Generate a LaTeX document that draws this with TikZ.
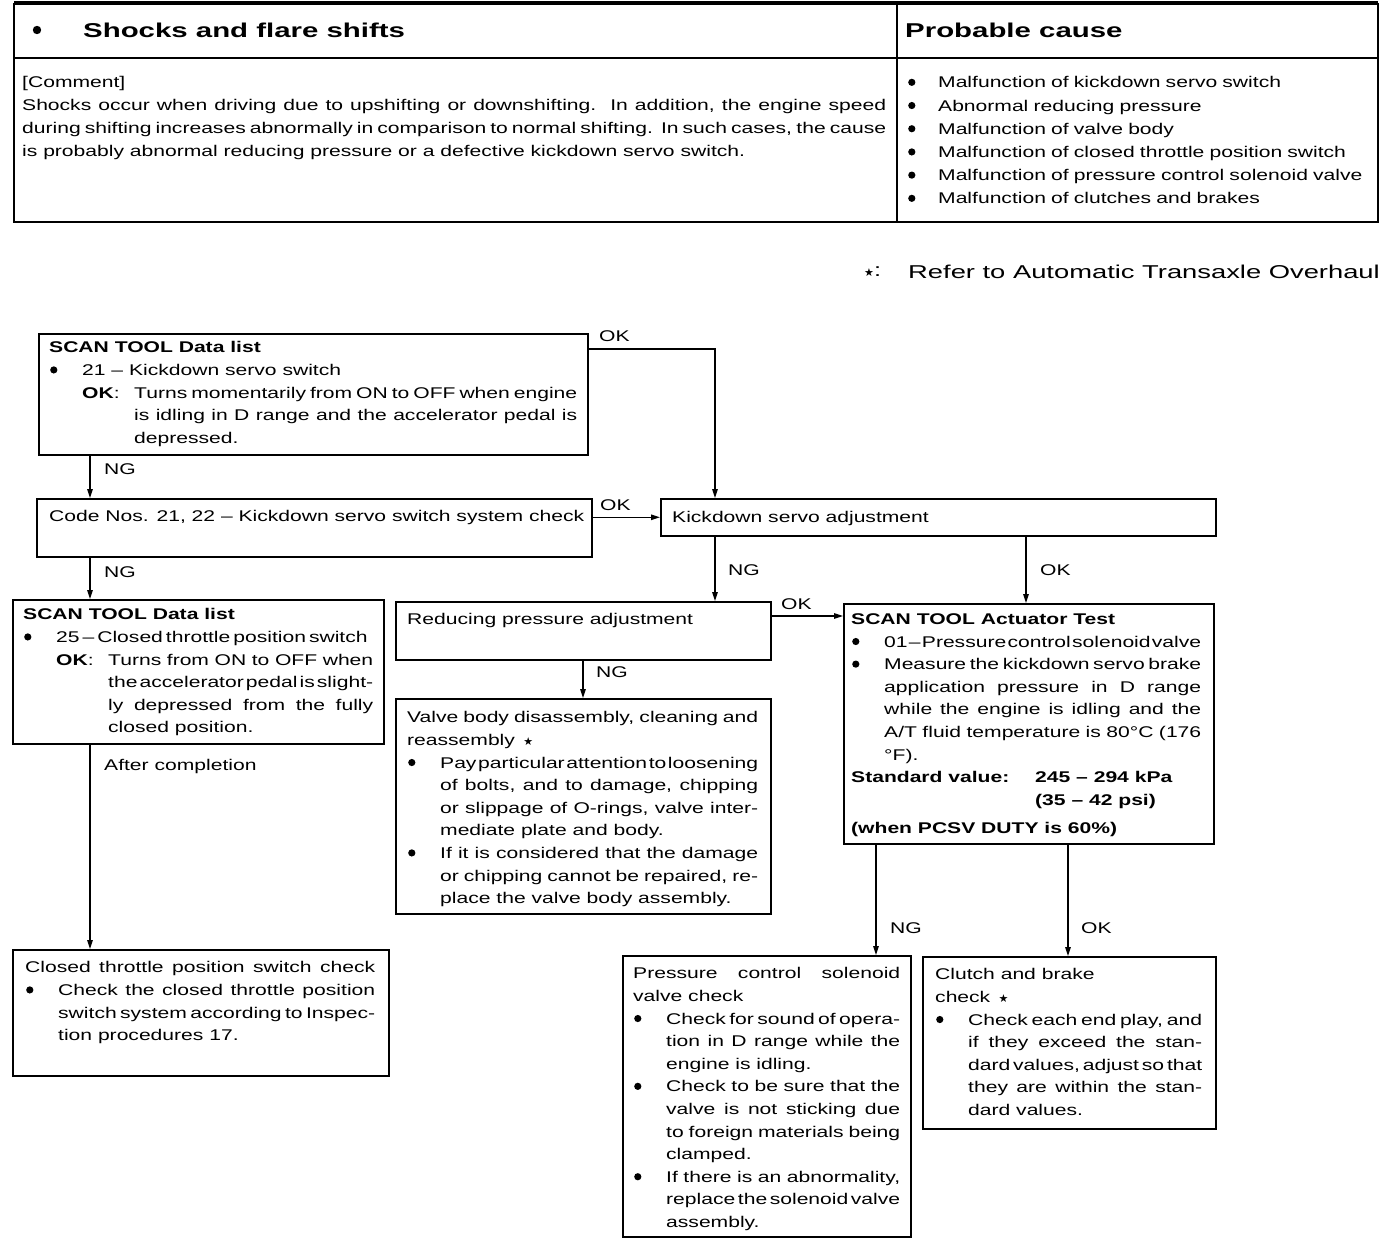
\documentclass[tikz,border=0pt]{standalone}
\usepackage{fontspec}
\setmainfont{Liberation Sans}[FakeStretch=1.36]
\newfontfamily\widefont{Liberation Sans}[FakeStretch=1.47]
\newfontfamily\dejavu{DejaVu Sans}
\usetikzlibrary{arrows.meta}
\newcommand\bodyfont{\fontsize{15.5}{22.6}\selectfont}
\newcommand\setpar{\parindent=0pt\parskip=0pt\tolerance=10000\hyphenpenalty=10000\exhyphenpenalty=10000\relax}
\newcommand\bul{\tikz[baseline=-5.5pt]\fill (0pt,0pt) circle[radius=3.6pt];}
\newcommand\refstar{{\dejavu\fontsize{11}{11}\selectfont ★}}
% bullet item; the first item in a node uses \bitemfirst (no leading \par)
\newcommand\bitemfirst[2][33pt]{\hangindent=#1\hangafter=1\noindent\makebox[#1][l]{\hspace{1pt}\bul}#2\par}
\newcommand\bitem[2][33pt]{\par\bitemfirst[#1]{#2}}
\newcommand\okitem[1]{\par\hangindent=85pt\hangafter=1\noindent\hspace*{33pt}\makebox[52pt][l]{\textbf{OK}:}#1\par}
\newcommand\tightln[2][2.5pt]{{\spaceskip=#1 plus 10pt minus 0.5pt #2}}
\newcommand\jline[1]{\noindent\makebox[\hsize][s]{#1}\par}
\begin{document}
\begin{tikzpicture}[x=1pt,y=-1pt,
  box/.style={draw, line width=1.6pt, anchor=north west, inner sep=0pt},
  txt/.style={anchor=north west, inner sep=0pt, align=justify, font=\bodyfont, execute at begin node=\setpar},
  ln/.style={anchor=north west, inner sep=0pt, font=\bodyfont},
  lbl/.style={anchor=west, inner sep=0pt, font=\bodyfont},
  arr/.style={line width=1.3pt, -{Triangle[length=9pt,width=5.5pt]}},
  frame/.style={line width=1.8pt}]
\useasboundingbox (0,0) rectangle (1392,1238);

% ---------- top table ----------
\draw[frame] (14,4) rectangle (1378,222);
\draw[line width=3pt] (14,2.5) -- (1378,2.5);
\draw[frame] (14,58) -- (1378,58);
\draw[frame] (897,4) -- (897,222);
\node[anchor=center, inner sep=0pt] (hbul) at (37,30) {\tikz\fill (0pt,0pt) circle[radius=4.2pt];};
\node[anchor=west, inner sep=0pt, font=\widefont\fontsize{20}{24}\selectfont\bfseries] (htitle) at (83,30) {Shocks and flare shifts};
\node[anchor=west, inner sep=0pt, font=\widefont\fontsize{20}{24}\selectfont\bfseries] (hcause) at (905,30) {Probable cause};
\node[txt, text width=864pt, font=\fontsize{15.5}{23}\selectfont] (comment) at (22,76.4) {[Comment]\par
Shocks occur when driving due to upshifting or downshifting.\ \ In addition, the engine speed\linebreak during shifting increases abnormally in comparison to normal shifting.\ \ In such cases, the cause\linebreak is probably abnormal reducing pressure or a defective kickdown servo switch.};
\node[txt, text width=460pt, align=left, font=\fontsize{15.5}{23.2}\selectfont] (causes) at (907,76.4) {%
\bitemfirst[31pt]{Malfunction of kickdown servo switch}%
\bitem[31pt]{Abnormal reducing pressure}%
\bitem[31pt]{Malfunction of valve body}%
\bitem[31pt]{Malfunction of closed throttle position switch}%
\bitem[31pt]{Malfunction of pressure control solenoid valve}%
\bitem[31pt]{Malfunction of clutches and brakes}};

\node[anchor=west, inner sep=0pt, font=\fontsize{18.6}{22}\selectfont] (star) at (864,272) {\refstar:};
\node[anchor=west, inner sep=0pt, font=\widefont\fontsize{18.6}{22}\selectfont] (refer) at (908,272) {Refer to Automatic Transaxle Overhaul};

% ---------- flowchart boxes ----------
\node[box, minimum width=549pt, minimum height=121pt] (A) at (38,333) {};
\node[txt, text width=528pt] (At) at (49,341.4) {\textbf{SCAN TOOL Data list}%
\bitem{21 – Kickdown servo switch}%
\okitem{\tightln{Turns momentarily from ON to OFF when engine}\linebreak is idling in D range and the accelerator pedal is\linebreak depressed.}};

\node[box, minimum width=555pt, minimum height=58pt] (B) at (36,498) {};
\node[ln] (Bt) at (49,510.4) {Code Nos. 21, 22 – Kickdown servo switch system check};

\node[box, minimum width=555pt, minimum height=37pt] (C) at (660,498) {};
\node[ln] (Ct) at (672,511.4) {Kickdown servo adjustment};

\node[box, minimum width=371pt, minimum height=144pt] (D) at (12,599) {};
\node[txt, text width=350pt] (Dt) at (23,608.4) {\textbf{SCAN TOOL Data list}%
\bitem{\tightln[3pt]{25 – Closed throttle position switch}}%
\okitem{Turns from ON to OFF when\linebreak \tightln{the accelerator pedal is slight-}\linebreak ly depressed from the fully\linebreak closed position.}};

\node[box, minimum width=375pt, minimum height=58pt] (E) at (395,601) {};
\node[ln] (Et) at (407,613.4) {Reducing pressure adjustment};

\node[box, minimum width=375pt, minimum height=215pt] (F) at (395,698) {};
\node[txt, text width=351pt] (Ft) at (407,711.4) {\tightln[4pt]{Valve body disassembly, cleaning and}\linebreak reassembly\ \,\refstar%
\bitem{\tightln[2pt]{Pay particular attention to loosening}\linebreak of bolts, and to damage, chipping\linebreak or slippage of O-rings, valve inter-\linebreak mediate plate and body.}%
\bitem{If it is considered that the damage\linebreak or chipping cannot be repaired, re-\linebreak place the valve body assembly.}};

\node[box, minimum width=370pt, minimum height=240pt] (G) at (843,603) {};
\node[txt, text width=350pt] (Gt) at (851,613.4) {\textbf{SCAN TOOL Actuator Test}%
\bitem{\tightln[1.5pt]{01 – Pressure control solenoid valve}}%
\bitem{\tightln{Measure the kickdown servo brake}\linebreak application pressure in D range\linebreak while the engine is idling and the\linebreak A/T fluid temperature is 80°C (176\linebreak °F).}%
\noindent\makebox[184pt][l]{\textbf{Standard value:}}\textbf{245 – 294 kPa}\par
\noindent\hspace*{184pt}\textbf{(35 – 42 psi)}\par
\vspace{5.4pt}\noindent\textbf{(when PCSV DUTY is 60\%)}};

\node[box, minimum width=376pt, minimum height=126pt] (H) at (12,949) {};
\node[txt, text width=350pt] (Ht) at (25,961.4) {\jline{Closed throttle position switch check}%
\bitem{Check the closed throttle position\linebreak \tightln{switch system according to Inspec-}\linebreak tion procedures 17.}};

\node[box, minimum width=288pt, minimum height=281pt] (I) at (622,955) {};
\node[txt, text width=267pt] (It) at (633,967.4) {\jline{Pressure control solenoid}valve check%
\bitem{\tightln{Check for sound of opera-}\linebreak tion in D range while the\linebreak engine is idling.}%
\bitem{Check to be sure that the\linebreak valve is not sticking due\linebreak to foreign materials being\linebreak clamped.}%
\bitem{If there is an abnormality,\linebreak \tightln[2pt]{replace the solenoid valve}\linebreak assembly.}};

\node[box, minimum width=293pt, minimum height=172pt] (J) at (922,956) {};
\node[txt, text width=267pt] (Jt) at (935,968.4) {Clutch and brake\par check\ \,\refstar%
\bitem{\tightln{Check each end play, and}\linebreak if they exceed the stan-\linebreak \tightln{dard values, adjust so that}\linebreak they are within the stan-\linebreak dard values.}};

% ---------- connectors ----------
\draw[arr] (A.east |- 0,349) -| (C.north -| 715,0);
\draw[arr] (A.south -| 90,0) -- (B.north -| 90,0);
\draw[arr] (B.east |- C.west) -- (C.west);
\draw[arr] (B.south -| 90,0) -- (D.north -| 90,0);
\draw[arr] (C.south -| 715,0) -- (E.north -| 715,0);
\draw[arr] (C.south -| 1026,0) -- (G.north -| 1026,0);
\draw[arr] (E.east |- 0,616) -- (G.west |- 0,616);
\draw[arr] (E.south -| 583,0) -- (F.north -| 583,0);
\draw[arr] (D.south -| 90,0) -- (H.north -| 90,0);
\draw[arr] (G.south -| 876,0) -- (I.north -| 876,0);
\draw[arr] (G.south -| 1068,0) -- (J.north -| 1068,0);

% ---------- connector labels ----------
\node[lbl] (l1) at (599,336) {OK};
\node[lbl] (l2) at (104,469) {NG};
\node[lbl] (l3) at (600,505) {OK};
\node[lbl] (l4) at (104,572) {NG};
\node[lbl] (l5) at (728,570) {NG};
\node[lbl] (l6) at (1040,570) {OK};
\node[lbl] (l7) at (781,604) {OK};
\node[lbl] (l8) at (596,672) {NG};
\node[anchor=base west, inner sep=0pt, font=\bodyfont] (l9) at (104,770.6) {After completion};
\node[lbl] (l10) at (890,928) {NG};
\node[lbl] (l11) at (1081,928) {OK};
\end{tikzpicture}
\end{document}
